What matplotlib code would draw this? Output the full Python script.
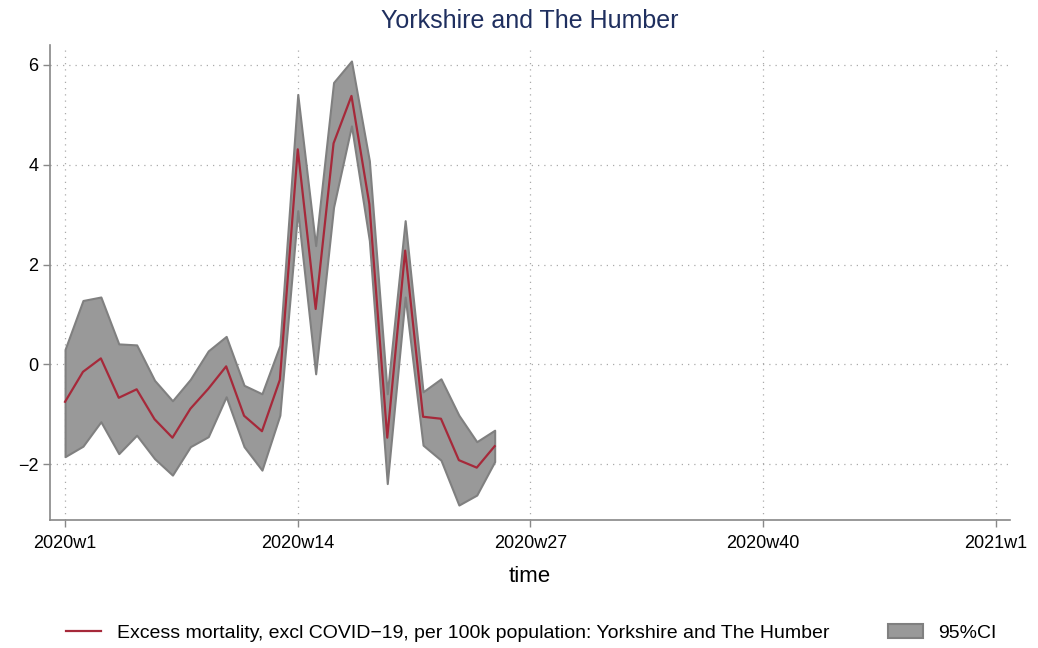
import matplotlib.pyplot as plt
from matplotlib.patches import Patch
from matplotlib.lines import Line2D

plt.rcParams['font.family'] = ['Liberation Sans', 'DejaVu Sans']

weeks = list(range(1, 26))
excess = [-0.75, -0.15, 0.12, -0.67, -0.50, -1.10, -1.47, -0.89, -0.49, -0.04,
          -1.03, -1.34, -0.31, 4.31, 1.11, 4.43, 5.38, 3.21, -1.47, 2.28,
          -1.05, -1.09, -1.92, -2.07, -1.64]
upper = [0.30, 1.28, 1.35, 0.41, 0.39, -0.32, -0.73, -0.30, 0.27, 0.56,
         -0.42, -0.59, 0.38, 5.41, 2.38, 5.65, 6.08, 4.08, -0.59, 2.88,
         -0.55, -0.29, -1.02, -1.55, -1.32]
lower = [-1.85, -1.64, -1.15, -1.79, -1.42, -1.89, -2.22, -1.65, -1.45, -0.65,
         -1.65, -2.12, -1.02, 3.08, -0.19, 3.15, 4.78, 2.48, -2.39, 1.35,
         -1.62, -1.92, -2.82, -2.62, -1.95]

xticks = [1, 14, 27, 40, 53]
xticklabels = ['2020w1', '2020w14', '2020w27', '2020w40', '2021w1']
yticks = [-2, 0, 2, 4, 6]
yticklabels = ['\u22122', '0', '2', '4', '6']

red = '#a6293a'
fill = '#999999'
edge = '#808080'

fig = plt.figure(figsize=(10.38, 6.48), dpi=100)
ax = fig.add_axes([0.0482, 0.1975, 0.925, 0.733])

ax.fill_between(weeks, lower, upper, facecolor=fill, edgecolor=edge, linewidth=1.5, zorder=2)
ax.plot(weeks, excess, color=red, linewidth=1.6, zorder=3)

ax.set_xlim(0.16, 53.8)
ax.set_ylim(-3.12, 6.4)
ax.set_xticks(xticks)
ax.set_xticklabels(xticklabels, fontsize=13)
ax.set_yticks(yticks)
ax.set_yticklabels(yticklabels, fontsize=13)
ax.tick_params(axis='both', direction='out', length=5, color='#888888', width=1)
ax.tick_params(axis='x', pad=6)

ax.grid(True, linestyle=(0, (1, 4)), color='#aaaaaa', linewidth=0.9, zorder=0)
for side in ['top', 'right']:
    ax.spines[side].set_visible(False)
for side in ['left', 'bottom']:
    ax.spines[side].set_color('#888888')
    ax.spines[side].set_linewidth(1.2)

ax.set_title('Yorkshire and The Humber', fontsize=18, color='#1f2f5f', pad=12)
ax.set_xlabel('time', fontsize=16, labelpad=10)

handles = [
    Line2D([0], [0], color=red, linewidth=1.6),
    Patch(facecolor=fill, edgecolor=edge, linewidth=1.5),
]
labels = ['Excess mortality, excl COVID\u221219, per 100k population: Yorkshire and The Humber', '95%CI']
fig.legend(handles, labels, loc='center', bbox_to_anchor=(0.512, 0.023), ncol=2,
           frameon=False, fontsize=14, columnspacing=3, handlelength=1.8)

fig.savefig('out.png', dpi=100)
